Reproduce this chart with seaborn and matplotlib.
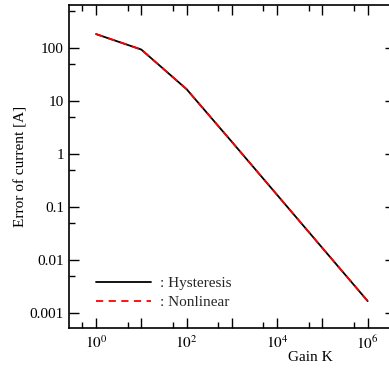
import matplotlib
matplotlib.use("Agg")
import matplotlib.pyplot as plt
import matplotlib.ticker as mticker
import seaborn as sns
import numpy as np

gain = [1, 10, 100, 1e3, 1e4, 1e5, 1e6]
hysteresis = [180, 92, 16.5, 1.68, 0.168, 0.0168, 0.00168]
nonlinear = [180, 92, 16.5, 1.68, 0.168, 0.0168, 0.00168]
labels = [": Hysteresis", ": Nonlinear"]

sns.set_theme(style="ticks")
plt.rcParams["font.family"] = ["Liberation Serif", "DejaVu Serif"]
plt.rcParams["mathtext.fontset"] = "stix"

fig = plt.figure(figsize=(3.89, 3.68), dpi=100)
# right spine sits just beyond the image edge, as in the reference
ax = fig.add_axes([0.177, 0.109, 0.838, 0.877])

sns.lineplot(x=gain, y=hysteresis, ax=ax, color="black", lw=1.3, label=labels[0])
sns.lineplot(x=gain, y=nonlinear, ax=ax, color="red", lw=1.3, ls=(0, (4, 3)), label=labels[1])

ax.set_xscale("log")
ax.set_yscale("log")
ax.set_xlim(10**-0.6, 10**6.6)
ax.set_ylim(10**-3.28, 10**2.8)

ax.xaxis.set_major_locator(mticker.LogLocator(base=10, numticks=20))
ax.xaxis.set_minor_locator(mticker.LogLocator(base=10, subs=[5.0], numticks=20))
def xfmt(v, pos):
    e = int(round(np.log10(v)))
    return r"$10^{%d}$" % e if (e % 2 == 0 and 0 <= e <= 6) else ""
ax.xaxis.set_major_formatter(mticker.FuncFormatter(xfmt))

ax.yaxis.set_major_locator(mticker.LogLocator(base=10, numticks=20))
ax.yaxis.set_minor_locator(mticker.LogLocator(base=10, subs=[5.0], numticks=20))
def yfmt(v, pos):
    e = int(round(np.log10(v)))
    if e < -3 or e > 2:
        return ""
    if e >= 0:
        return "%d" % (10**e)
    return ("%." + str(-e) + "f") % (10.0**e)
ax.yaxis.set_major_formatter(mticker.FuncFormatter(yfmt))
ax.yaxis.set_minor_formatter(mticker.NullFormatter())
ax.xaxis.set_minor_formatter(mticker.NullFormatter())

ax.tick_params(which="both", direction="in", top=True, right=True, labelsize=11, width=1, colors="black")
ax.tick_params(which="major", length=7)
ax.tick_params(which="minor", length=4)
for s in ax.spines.values():
    s.set_color("black")
    s.set_linewidth(1.2)

ax.set_ylabel("Error of current [A]", fontsize=11, color="black")
ax.yaxis.set_label_coords(-0.128, 0.5)
ax.set_xlabel("Gain K", fontsize=11, color="black")
ax.xaxis.set_label_coords(0.74, -0.072)
ax.tick_params(axis="x", pad=5)

ax.legend(loc="lower left", bbox_to_anchor=(0.04, 0.015), frameon=False, fontsize=11,
          handlelength=3.6, handletextpad=0.6, labelspacing=0.35)

fig.savefig("out.png", dpi=100)
